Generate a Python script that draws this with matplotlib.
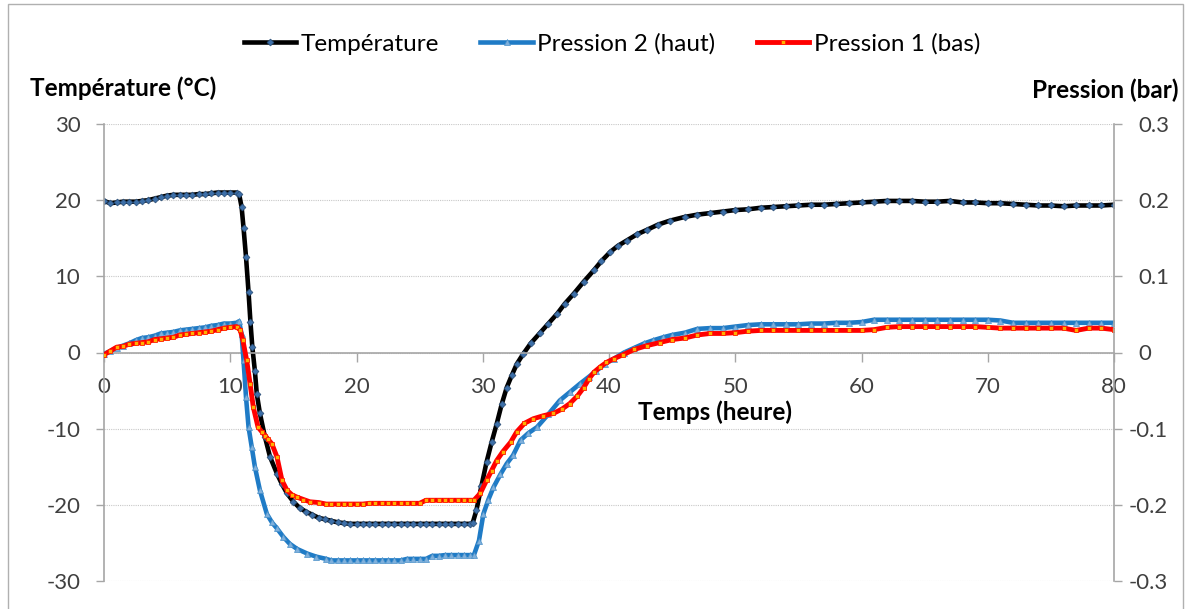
import matplotlib.pyplot as plt
from matplotlib.patches import Rectangle
from matplotlib.transforms import ScaledTranslation

plt.rcParams['font.family'] = ['Lato', 'DejaVu Sans']
plt.rcParams['axes.unicode_minus'] = False

# Température (°C) vs temps (heure)
temp_t = [0, 0.5, 1, 1.5, 2, 2.5, 3, 3.5, 4, 4.5,
          5, 5.5, 6, 6.5, 7, 7.5, 8, 8.5, 9, 9.5,
          10, 10.5, 10.7, 10.9, 11.05, 11.25, 11.45, 11.6, 11.75, 11.95,
          12.1, 12.35, 12.75, 13.15, 13.7, 14.1, 14.5, 15, 15.5, 16,
          16.5, 17, 17.5, 18, 18.5, 19, 19.5, 20, 20.5, 21,
          21.5, 22, 22.5, 23, 23.5, 24, 24.5, 25, 25.5, 26,
          26.5, 27, 27.5, 28, 28.5, 29, 29.2, 29.5, 29.9, 30.3,
          30.7, 31.1, 31.5, 31.9, 32.3, 32.7, 33.2, 33.8, 34.5, 35.2,
          35.9, 36.5, 37.2, 38, 38.8, 39.4, 40.1, 40.7, 41.4, 42.2,
          43, 43.9, 44.8, 46, 47, 48, 49, 50, 51, 52,
          53, 54, 55, 56, 57, 58, 59, 60, 61, 62,
          63, 64, 65, 66, 67, 68, 69, 70, 71, 72,
          73, 74, 75, 76, 77, 78, 79, 80]
temp = [19.9, 19.6, 19.7, 19.8, 19.8, 19.8, 19.9, 20.0, 20.2, 20.4,
        20.6, 20.7, 20.7, 20.7, 20.7, 20.8, 20.8, 20.9, 21.0, 21.0,
        21.0, 21.0, 20.8, 19.1, 16.4, 12.5, 7.9, 4.0, 0.7, -2.4,
        -5.4, -8.0, -11.1, -13.7, -15.9, -17.3, -18.5, -19.6, -20.4, -20.9,
        -21.3, -21.7, -21.9, -22.1, -22.3, -22.4, -22.5, -22.5, -22.5, -22.5,
        -22.5, -22.5, -22.5, -22.5, -22.5, -22.5, -22.5, -22.5, -22.5, -22.5,
        -22.5, -22.5, -22.5, -22.5, -22.5, -22.5, -22.4, -20.7, -17.5, -14.4,
        -11.8, -9.4, -6.8, -4.6, -3.0, -1.5, -0.2, 1.2, 2.5, 3.8,
        5.1, 6.4, 7.7, 9.3, 10.8, 12.0, 13.2, 14.0, 14.7, 15.5,
        16.1, 16.8, 17.3, 17.8, 18.1, 18.3, 18.5, 18.7, 18.8, 19.0,
        19.1, 19.2, 19.3, 19.4, 19.4, 19.5, 19.6, 19.7, 19.8, 19.9,
        19.9, 19.9, 19.8, 19.8, 19.9, 19.7, 19.7, 19.6, 19.6, 19.5,
        19.4, 19.3, 19.3, 19.2, 19.3, 19.3, 19.3, 19.4]

# Pression 2 (haut), bar
p2_t = [0, 0.5, 1, 1.5, 2, 2.5, 3, 3.5, 4, 4.5,
        5, 5.5, 6, 6.5, 7, 7.5, 8, 8.5, 9, 9.5,
        10, 10.5, 10.7, 10.9, 11.05, 11.25, 11.45, 11.7, 11.95, 12.35,
        12.9, 13.3, 13.7, 14.2, 14.7, 15.3, 16.1, 16.8, 17.6, 18,
        18.5, 19, 19.5, 20, 20.5, 21, 21.5, 22, 22.5, 23,
        23.5, 24, 24.5, 25, 25.5, 26, 26.5, 27, 27.5, 28,
        28.5, 29, 29.3, 29.7, 30.05, 30.45, 30.85, 31.4, 31.9, 32.4,
        33, 33.6, 34.3, 35.2, 36.1, 36.9, 37.7, 38.4, 39, 39.7,
        40.4, 41.2, 42, 42.8, 43.5, 44.3, 45, 46, 47, 48,
        49, 50, 51, 52, 53, 54, 55, 56, 57, 58,
        59, 60, 61, 62, 63, 64, 65, 66, 67, 68,
        69, 70, 71, 72, 73, 74, 75, 76, 77, 78,
        79, 80]
p2 = [-0.002, 0.002, 0.006, 0.009, 0.012, 0.016, 0.019, 0.020, 0.022, 0.025,
      0.026, 0.027, 0.029, 0.030, 0.031, 0.032, 0.033, 0.035, 0.036, 0.038,
      0.038, 0.039, 0.041, 0.024, -0.010, -0.059, -0.098, -0.124, -0.150, -0.181,
      -0.212, -0.223, -0.231, -0.242, -0.251, -0.258, -0.264, -0.268, -0.271, -0.273,
      -0.273, -0.273, -0.273, -0.273, -0.273, -0.273, -0.273, -0.273, -0.273, -0.273,
      -0.273, -0.271, -0.271, -0.271, -0.271, -0.267, -0.267, -0.266, -0.266, -0.266,
      -0.266, -0.266, -0.266, -0.247, -0.212, -0.193, -0.177, -0.160, -0.146, -0.135,
      -0.115, -0.106, -0.098, -0.081, -0.063, -0.052, -0.041, -0.032, -0.024, -0.015,
      -0.008, 0.000, 0.006, 0.012, 0.016, 0.020, 0.023, 0.026, 0.031, 0.032,
      0.032, 0.034, 0.036, 0.037, 0.037, 0.037, 0.037, 0.038, 0.038, 0.039,
      0.039, 0.040, 0.043, 0.043, 0.043, 0.043, 0.043, 0.043, 0.043, 0.043,
      0.043, 0.043, 0.042, 0.039, 0.039, 0.039, 0.039, 0.039, 0.039, 0.039,
      0.039, 0.039]

# Pression 1 (bas), bar
p1_t = [0, 0.5, 1, 1.5, 2, 2.5, 3, 3.5, 4, 4.5,
        5, 5.5, 6, 6.5, 7, 7.5, 8, 8.5, 9, 9.5,
        10, 10.5, 10.8, 11, 11.3, 11.57, 11.83, 12.2, 12.5, 12.76,
        13, 13.3, 13.7, 14.1, 14.5, 14.9, 15.3, 15.8, 16.3, 17,
        17.6, 18, 18.5, 19, 19.5, 20, 20.5, 21, 21.5, 22,
        22.5, 23, 23.5, 24, 24.5, 25, 25.5, 26, 26.5, 27,
        27.5, 28, 28.5, 29, 29.3, 29.8, 30.3, 30.7, 31.1, 31.6,
        32.2, 32.7, 33.3, 34, 34.8, 35.6, 36.3, 36.9, 37.5, 38,
        38.4, 38.8, 39.3, 39.8, 40.4, 41.1, 42, 43, 44, 45,
        46, 47, 48, 49, 50, 51, 52, 53, 54, 55,
        56, 57, 58, 59, 60, 61, 62, 63, 64, 65,
        66, 67, 68, 69, 70, 71, 72, 73, 74, 75,
        76, 77, 78, 79, 80]
p1 = [-0.003, 0.002, 0.007, 0.008, 0.011, 0.012, 0.013, 0.014, 0.017, 0.018,
      0.019, 0.020, 0.023, 0.024, 0.025, 0.026, 0.027, 0.028, 0.030, 0.032,
      0.033, 0.034, 0.029, 0.016, -0.010, -0.041, -0.072, -0.098, -0.104, -0.109,
      -0.114, -0.120, -0.137, -0.168, -0.181, -0.187, -0.190, -0.193, -0.196, -0.197,
      -0.199, -0.199, -0.199, -0.199, -0.199, -0.199, -0.199, -0.198, -0.198, -0.198,
      -0.198, -0.198, -0.198, -0.198, -0.198, -0.198, -0.194, -0.194, -0.194, -0.194,
      -0.194, -0.194, -0.194, -0.194, -0.194, -0.185, -0.168, -0.155, -0.142, -0.130,
      -0.118, -0.104, -0.093, -0.087, -0.083, -0.080, -0.074, -0.067, -0.057, -0.046,
      -0.035, -0.026, -0.019, -0.013, -0.008, -0.003, 0.004, 0.009, 0.013, 0.017,
      0.019, 0.023, 0.025, 0.025, 0.026, 0.028, 0.029, 0.029, 0.029, 0.029,
      0.029, 0.029, 0.029, 0.029, 0.029, 0.030, 0.033, 0.034, 0.034, 0.034,
      0.034, 0.034, 0.034, 0.034, 0.033, 0.032, 0.032, 0.032, 0.032, 0.032,
      0.032, 0.029, 0.032, 0.032, 0.030]

x_ticks = [0, 10, 20, 30, 40, 50, 60, 70, 80]
t_ticks = [-30, -20, -10, 0, 10, 20, 30]
p_ticks = [-0.3, -0.2, -0.1, 0, 0.1, 0.2, 0.3]
p_labels = ['-0.3', '-0.2', '-0.1', '0', '0.1', '0.2', '0.3']

GRAY = '#a6a6a6'
TXT = '#404040'
FS = 17.5     # legend / axis titles
TFS = 16      # tick labels

fig = plt.figure(figsize=(11.94, 6.09), dpi=100)
ax = fig.add_axes([104 / 1194, 1 - 581 / 609, 1010 / 1194, 457 / 609])
ax.set_xlim(0, 80)
ax.set_ylim(-30, 30)
l1, = ax.plot(temp_t, temp, color='black', lw=3.3, marker='D', ms=3.5,
              mfc='#3d6fa8', mec='#2a4d75', mew=0.5, label='Température')

ax2 = ax.twinx()
ax2.set_ylim(-0.3, 0.3)
l2, = ax2.plot(p2_t, p2, color='#1f7bc6', lw=3.3, marker='^', ms=4,
               mfc='#7fb0dc', mec='#4a90c8', mew=0.5, label='Pression 2 (haut)')
l3, = ax2.plot(p1_t, p1, color='#ff0000', lw=3.5, marker='s', ms=3.5,
               mfc='#ffb000', mec='#ff2000', mew=0.6, label='Pression 1 (bas)')

# spines
for s in ['top', 'right']:
    ax.spines[s].set_visible(False)
ax.spines['bottom'].set_position(('data', 0))
for s in ['top', 'bottom', 'left']:
    ax2.spines[s].set_visible(False)
for sp in [ax.spines['left'], ax.spines['bottom'], ax2.spines['right']]:
    sp.set_color(GRAY)
    sp.set_linewidth(1.2)

ax.yaxis.grid(True, linestyle=(0, (1, 1)), color='#c8c8c8', lw=0.8)
ax.set_axisbelow(True)

ax.set_xticks(x_ticks)
ax.set_yticks(t_ticks)
ax2.set_yticks(p_ticks, labels=p_labels)

ax.tick_params(axis='x', direction='out', length=6.5, width=1, color=GRAY,
               pad=11, labelsize=TFS, labelcolor=TXT)
ax.tick_params(axis='y', direction='out', length=6, width=1, color=GRAY,
               pad=11, labelsize=TFS, labelcolor=TXT)
ax2.tick_params(axis='y', direction='out', length=6, width=1, color=GRAY,
                pad=11.5, labelsize=TFS, labelcolor=TXT)

# minus sign hangs to the left of the right-axis labels
for v, tk in zip(p_ticks, ax2.yaxis.get_major_ticks()):
    if v < 0:
        tk.label2.set_transform(tk.label2.get_transform() +
                                ScaledTranslation(-7 / 72, 0, fig.dpi_scale_trans))

ax.set_xlabel('Temps (heure)', fontweight='bold', fontsize=FS, color='black')
ax.xaxis.set_label_coords(0.605, 0.395)

fig.text(30 / 1194, 1 - 88 / 609, 'Température (°C)', fontweight='bold',
         fontsize=FS, ha='left', va='center')
fig.text(1178 / 1194, 1 - 90 / 609, 'Pression (bar)', fontweight='bold',
         fontsize=FS, ha='right', va='center')

fig.legend(handles=[l1, l2, l3], loc='center', bbox_to_anchor=(612 / 1194, 1 - 44 / 609),
           ncol=3, frameon=False, fontsize=FS, handlelength=2.15,
           handletextpad=0.2, columnspacing=1.7)

fig.add_artist(Rectangle((8 / 1194, -0.02), 1175 / 1194, 1 - 4 / 609 + 0.02,
                         transform=fig.transFigure, fill=False, ec='#b0b0b0', lw=1))

fig.savefig('out.png', dpi=100)
